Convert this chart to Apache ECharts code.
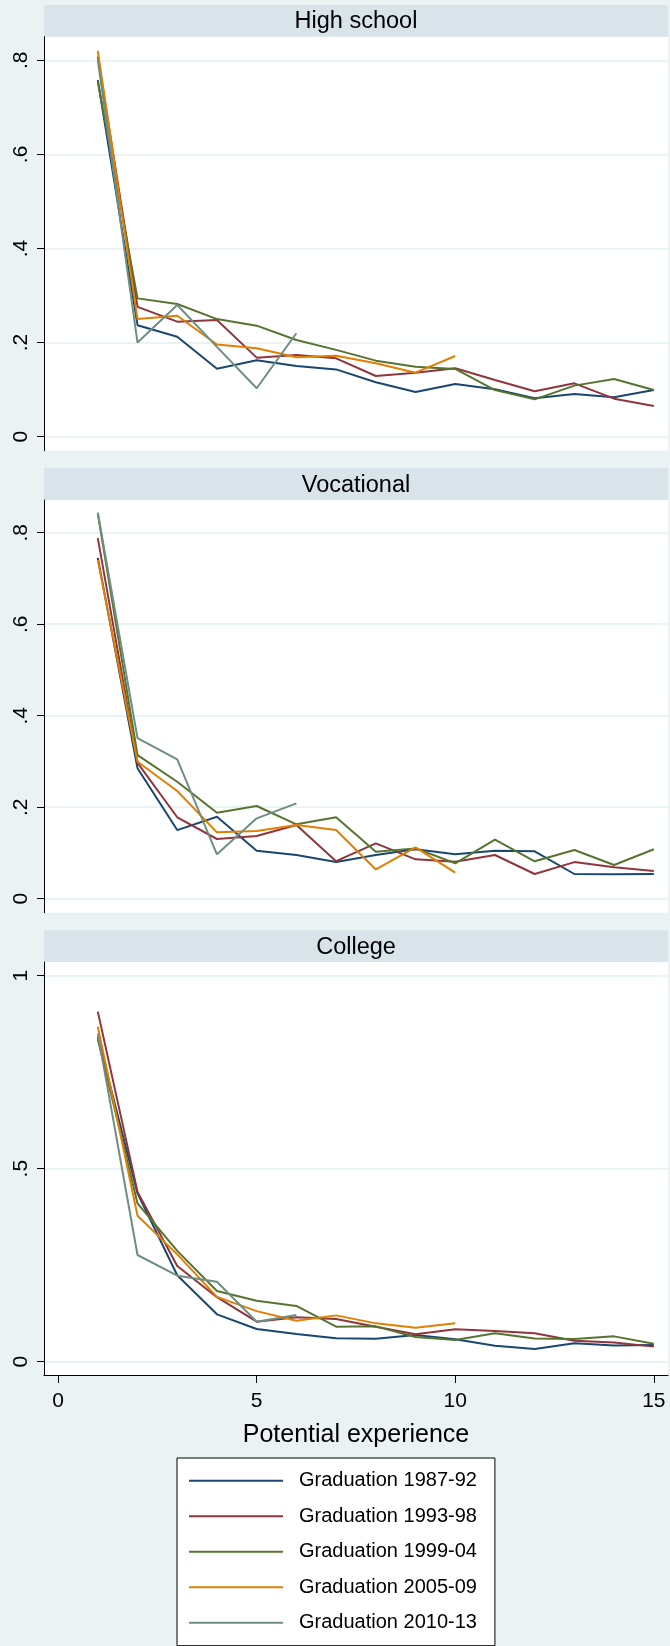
<!DOCTYPE html>
<html>
<head>
<meta charset="utf-8">
<script src="https://cdn.jsdelivr.net/npm/echarts@6/dist/echarts.min.js"></script>
<style>
  html, body { margin: 0; padding: 0; background: #eaf2f3; }
  #chart { width: 670px; height: 1646px; }
</style>
</head>
<body>
<div id="chart"></div>
<script>
// Potential experience (years since graduation)
const experience = [1, 2, 3, 4, 5, 6, 7, 8, 9, 10, 11, 12, 13, 14, 15];

// Cohort labels
const cohorts = ['Graduation 1987-92', 'Graduation 1993-98', 'Graduation 1999-04', 'Graduation 2005-09', 'Graduation 2010-13'];

// Panel titles
const panels = ['High school', 'Vocational', 'College'];

// High school
const hs1987 = [0.758, 0.237, 0.2125, 0.1445, 0.1624, 0.150, 0.143, 0.1156, 0.095, 0.112, 0.1007, 0.0815, 0.0907, 0.0836, 0.0992];
const hs1993 = [0.808, 0.276, 0.2445, 0.248, 0.168, 0.1736, 0.1666, 0.129, 0.136, 0.1453, 0.1205, 0.0964, 0.1134, 0.0808, 0.0652];
const hs1999 = [0.755, 0.294, 0.282, 0.250, 0.236, 0.2055, 0.1845, 0.1616, 0.1488, 0.1439, 0.099, 0.0794, 0.1085, 0.1226, 0.0992];
const hs2005 = [0.820, 0.250, 0.257, 0.196, 0.188, 0.1687, 0.172, 0.156, 0.136, 0.1715];
const hs2010 = [0.800, 0.200, 0.280, 0.191, 0.103, 0.2198];

// Vocational
const voc1987 = [0.745, 0.285, 0.150, 0.179, 0.105, 0.0955, 0.080, 0.0955, 0.108, 0.097, 0.105, 0.1036, 0.054, 0.0533, 0.054];
const voc1993 = [0.788, 0.297, 0.178, 0.1305, 0.137, 0.161, 0.082, 0.121, 0.086, 0.081, 0.0955, 0.054, 0.080, 0.0686, 0.0605];
const voc1999 = [0.842, 0.314, 0.2557, 0.188, 0.2026, 0.1626, 0.178, 0.1028, 0.110, 0.0774, 0.129, 0.0817, 0.1064, 0.0737, 0.108];
const voc2005 = [0.740, 0.2995, 0.2353, 0.145, 0.148, 0.161, 0.150, 0.064, 0.1123, 0.0569];
const voc2010 = [0.844, 0.351, 0.3046, 0.097, 0.1757, 0.2085];

// College
const col1987 = [0.842, 0.436, 0.224, 0.1227, 0.0847, 0.0718, 0.0605, 0.0596, 0.069, 0.0579, 0.0415, 0.0328, 0.048, 0.042, 0.043];
const col1993 = [0.907, 0.440, 0.248, 0.167, 0.1036, 0.115, 0.1105, 0.0907, 0.0708, 0.0838, 0.0795, 0.0734, 0.054, 0.050, 0.039];
const col1999 = [0.835, 0.410, 0.287, 0.183, 0.158, 0.1443, 0.0907, 0.0915, 0.064, 0.056, 0.0734, 0.060, 0.0587, 0.0656, 0.0466];
const col2005 = [0.868, 0.378, 0.278, 0.168, 0.131, 0.106, 0.120, 0.0993, 0.088, 0.0993];
const col2010 = [0.850, 0.2764, 0.2228, 0.207, 0.1036, 0.121];

// Tick labels
const xTicks = [0, 5, 10, 15];
const yTicksShare = [0, 0.2, 0.4, 0.6, 0.8];
const yTicksCollege = [0, 0.5, 1];

const panelData = [
  [hs1987, hs1993, hs1999, hs2005, hs2010],
  [voc1987, voc1993, voc1999, voc2005, voc2010],
  [col1987, col1993, col1999, col2005, col2010]
];

const colors = ['#1a476f', '#90353b', '#55752f', '#e37e00', '#6e8e84'];
const FONT = 'Liberation Sans, Arial, sans-serif';

// Plot-region layout of each panel (pixels) and its value range
const layout = [
  { top: 36.7, height: 414.0, yMin: -0.0298, yMax: 0.8502, ticks: yTicksShare },
  { top: 500.0, height: 412.7, yMin: -0.0306, yMax: 0.8715, ticks: yTicksShare },
  { top: 962.0, height: 413.0, yMin: -0.0345, yMax: 1.0355, ticks: yTicksCollege }
];
const plotLeft = 44, plotRight = 668;
const stripH = 31.7;

function fmtTick(v) {
  if (v === 0) return '0';
  return String(v).replace(/^0\./, '.');
}

const grids = layout.map(p => ({
  left: plotLeft, width: plotRight - plotLeft, top: p.top, height: p.height,
  show: true, backgroundColor: '#ffffff', borderWidth: 0, containLabel: false
}));

const xAxes = layout.map((p, i) => {
  const bottom = i === layout.length - 1;
  return {
    type: 'value', gridIndex: i, min: -0.355, max: 15.357,
    axisLine: { show: bottom, onZero: false, lineStyle: { color: '#000', width: 1 } },
    axisTick: { show: bottom, length: 8, customValues: xTicks, lineStyle: { color: '#000', width: 1 } },
    axisLabel: {
      show: bottom, customValues: xTicks, fontSize: 21, fontFamily: FONT, color: '#000', margin: 16,
      formatter: v => String(v)
    },
    splitLine: { show: false },
    name: bottom ? 'Potential experience' : '',
    nameLocation: 'middle', nameGap: 48,
    nameTextStyle: { fontSize: 25, fontFamily: FONT, color: '#000' }
  };
});

const yAxes = layout.map((p, i) => ({
  type: 'value', gridIndex: i, min: p.yMin, max: p.yMax,
  axisLine: { show: true, onZero: false, lineStyle: { color: '#000', width: 1 } },
  axisTick: { show: true, length: 7, customValues: p.ticks, lineStyle: { color: '#000', width: 1 } },
  axisLabel: {
    customValues: p.ticks, rotate: 90, fontSize: 21, fontFamily: FONT, color: '#000', margin: 12,
    formatter: fmtTick
  },
  splitLine: { show: true, lineStyle: { color: '#e4eef0', width: 1.5 } }
}));

const series = [];
panelData.forEach((group, gi) => {
  group.forEach((vals, si) => {
    series.push({
      type: 'line', name: cohorts[si], xAxisIndex: gi, yAxisIndex: gi,
      data: vals.map((v, k) => [experience[k], v]),
      showSymbol: false, symbol: 'none', silent: true, animation: false,
      lineStyle: { color: colors[si], width: 2 },
      itemStyle: { color: colors[si] }
    });
  });
});

// Panel header strips
const graphics = [];
layout.forEach((p, i) => {
  graphics.push({
    type: 'rect', silent: true,
    shape: { x: plotLeft, y: p.top - stripH, width: plotRight - plotLeft, height: stripH },
    style: { fill: '#d8e4ea' }
  });
  graphics.push({
    type: 'text', silent: true,
    x: (plotLeft + plotRight) / 2, y: p.top - stripH / 2 + 1,
    style: { text: panels[i], fontSize: 23.5, fontFamily: FONT, fill: '#000', align: 'center', verticalAlign: 'middle' }
  });
});

const chart = echarts.init(document.getElementById('chart'), null, { renderer: 'canvas' });
chart.setOption({
  backgroundColor: '#eaf2f3',
  animation: false,
  grid: grids,
  xAxis: xAxes,
  yAxis: yAxes,
  series: series,
  graphic: graphics,
  legend: {
    orient: 'vertical', left: 177, top: 1458,
    data: cohorts,
    itemWidth: 94, itemHeight: 20, itemGap: 15.5,
    padding: [12.7, 18, 13, 11],
    backgroundColor: '#ffffff', borderColor: '#000', borderWidth: 1,
    selectedMode: false,
    // line-only key: hide the marker drawn on the key line
    itemStyle: { opacity: 0 },
    lineStyle: { width: 2 },
    textStyle: { fontSize: 20, fontFamily: FONT, color: '#000', lineHeight: 20, padding: [0, 0, 0, 11] }
  }
});
</script>
</body>
</html>
